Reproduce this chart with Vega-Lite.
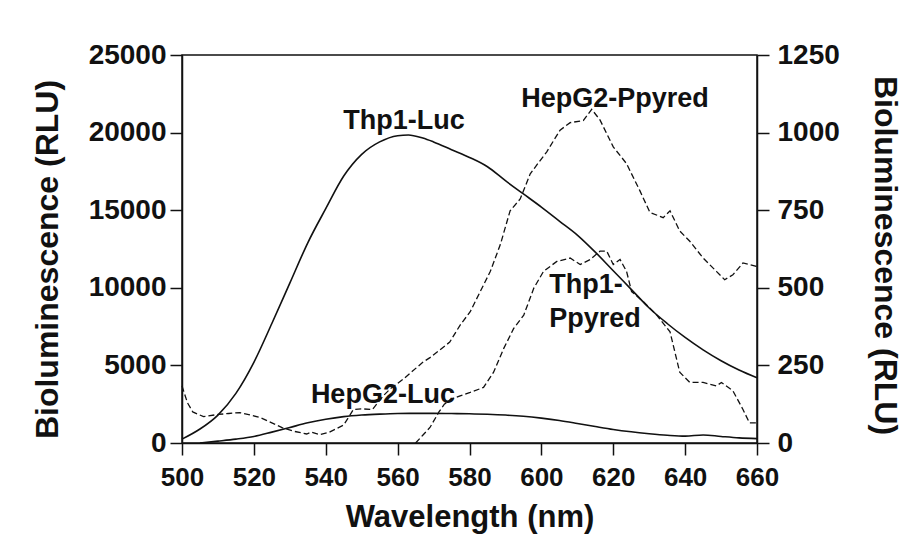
{
  "$schema": "https://vega.github.io/schema/vega-lite/v6.json",
  "width": 575,
  "height": 388,
  "autosize": {"type": "none"},
  "padding": {"left": 182, "top": 55, "right": 164, "bottom": 115},
  "background": "white",
  "config": {
    "view": {"stroke": "#111", "strokeWidth": 1.5},
    "font": "Liberation Sans",
    "axis": {
      "grid": false,
      "domainColor": "#111",
      "domainWidth": 1.5,
      "tickColor": "#111",
      "tickWidth": 1.5,
      "tickSize": 12,
      "labelColor": "#111",
      "labelFont": "Liberation Sans",
      "labelFontWeight": "bold",
      "titleColor": "#111",
      "titleFont": "Liberation Sans",
      "titleFontWeight": "bold"
    }
  },
  "datasets": {
    "luc": [
      {"series": "Thp1-Luc", "nm": 500, "rlu": 250},
      {"series": "Thp1-Luc", "nm": 505, "rlu": 900},
      {"series": "Thp1-Luc", "nm": 510, "rlu": 1800},
      {"series": "Thp1-Luc", "nm": 515, "rlu": 3200},
      {"series": "Thp1-Luc", "nm": 520, "rlu": 5200},
      {"series": "Thp1-Luc", "nm": 525, "rlu": 7700},
      {"series": "Thp1-Luc", "nm": 530, "rlu": 10300},
      {"series": "Thp1-Luc", "nm": 535, "rlu": 12900},
      {"series": "Thp1-Luc", "nm": 540, "rlu": 15100},
      {"series": "Thp1-Luc", "nm": 545, "rlu": 17200},
      {"series": "Thp1-Luc", "nm": 550, "rlu": 18600},
      {"series": "Thp1-Luc", "nm": 555, "rlu": 19400},
      {"series": "Thp1-Luc", "nm": 560, "rlu": 19800},
      {"series": "Thp1-Luc", "nm": 563, "rlu": 19850},
      {"series": "Thp1-Luc", "nm": 567, "rlu": 19650},
      {"series": "Thp1-Luc", "nm": 570, "rlu": 19400},
      {"series": "Thp1-Luc", "nm": 575, "rlu": 18900},
      {"series": "Thp1-Luc", "nm": 580, "rlu": 18400},
      {"series": "Thp1-Luc", "nm": 585, "rlu": 17800},
      {"series": "Thp1-Luc", "nm": 590, "rlu": 16900},
      {"series": "Thp1-Luc", "nm": 595, "rlu": 16050},
      {"series": "Thp1-Luc", "nm": 600, "rlu": 15200},
      {"series": "Thp1-Luc", "nm": 605, "rlu": 14300},
      {"series": "Thp1-Luc", "nm": 610, "rlu": 13400},
      {"series": "Thp1-Luc", "nm": 615, "rlu": 12300},
      {"series": "Thp1-Luc", "nm": 620, "rlu": 11100},
      {"series": "Thp1-Luc", "nm": 625, "rlu": 9900},
      {"series": "Thp1-Luc", "nm": 630, "rlu": 8700},
      {"series": "Thp1-Luc", "nm": 635, "rlu": 7700},
      {"series": "Thp1-Luc", "nm": 640, "rlu": 6800},
      {"series": "Thp1-Luc", "nm": 645, "rlu": 6000},
      {"series": "Thp1-Luc", "nm": 650, "rlu": 5300},
      {"series": "Thp1-Luc", "nm": 655, "rlu": 4700},
      {"series": "Thp1-Luc", "nm": 660, "rlu": 4200},
      {"series": "HepG2-Luc", "nm": 505, "rlu": 0},
      {"series": "HepG2-Luc", "nm": 510, "rlu": 120},
      {"series": "HepG2-Luc", "nm": 515, "rlu": 250},
      {"series": "HepG2-Luc", "nm": 520, "rlu": 420},
      {"series": "HepG2-Luc", "nm": 525, "rlu": 700},
      {"series": "HepG2-Luc", "nm": 530, "rlu": 1000},
      {"series": "HepG2-Luc", "nm": 535, "rlu": 1300},
      {"series": "HepG2-Luc", "nm": 540, "rlu": 1530},
      {"series": "HepG2-Luc", "nm": 545, "rlu": 1700},
      {"series": "HepG2-Luc", "nm": 550, "rlu": 1800},
      {"series": "HepG2-Luc", "nm": 555, "rlu": 1860},
      {"series": "HepG2-Luc", "nm": 560, "rlu": 1900},
      {"series": "HepG2-Luc", "nm": 565, "rlu": 1910},
      {"series": "HepG2-Luc", "nm": 570, "rlu": 1910},
      {"series": "HepG2-Luc", "nm": 575, "rlu": 1900},
      {"series": "HepG2-Luc", "nm": 580, "rlu": 1880},
      {"series": "HepG2-Luc", "nm": 585, "rlu": 1850},
      {"series": "HepG2-Luc", "nm": 590, "rlu": 1800},
      {"series": "HepG2-Luc", "nm": 595, "rlu": 1720},
      {"series": "HepG2-Luc", "nm": 600, "rlu": 1600},
      {"series": "HepG2-Luc", "nm": 605, "rlu": 1450},
      {"series": "HepG2-Luc", "nm": 610, "rlu": 1260},
      {"series": "HepG2-Luc", "nm": 615, "rlu": 1060},
      {"series": "HepG2-Luc", "nm": 620, "rlu": 870},
      {"series": "HepG2-Luc", "nm": 625, "rlu": 720},
      {"series": "HepG2-Luc", "nm": 630, "rlu": 600},
      {"series": "HepG2-Luc", "nm": 635, "rlu": 500},
      {"series": "HepG2-Luc", "nm": 640, "rlu": 440},
      {"series": "HepG2-Luc", "nm": 645, "rlu": 520},
      {"series": "HepG2-Luc", "nm": 650, "rlu": 420},
      {"series": "HepG2-Luc", "nm": 655, "rlu": 330},
      {"series": "HepG2-Luc", "nm": 660, "rlu": 280}
    ],
    "ppy": [
      {"series": "HepG2-Ppyred", "nm": 500, "rlu": 184},
      {"series": "HepG2-Ppyred", "nm": 501.5, "rlu": 130},
      {"series": "HepG2-Ppyred", "nm": 503, "rlu": 100},
      {"series": "HepG2-Ppyred", "nm": 506, "rlu": 85},
      {"series": "HepG2-Ppyred", "nm": 510, "rlu": 92},
      {"series": "HepG2-Ppyred", "nm": 513, "rlu": 95},
      {"series": "HepG2-Ppyred", "nm": 516, "rlu": 98},
      {"series": "HepG2-Ppyred", "nm": 519, "rlu": 90},
      {"series": "HepG2-Ppyred", "nm": 522, "rlu": 81},
      {"series": "HepG2-Ppyred", "nm": 525, "rlu": 65},
      {"series": "HepG2-Ppyred", "nm": 528, "rlu": 49},
      {"series": "HepG2-Ppyred", "nm": 531, "rlu": 38},
      {"series": "HepG2-Ppyred", "nm": 534.7, "rlu": 29},
      {"series": "HepG2-Ppyred", "nm": 536, "rlu": 35},
      {"series": "HepG2-Ppyred", "nm": 538.4, "rlu": 27},
      {"series": "HepG2-Ppyred", "nm": 541, "rlu": 35},
      {"series": "HepG2-Ppyred", "nm": 545, "rlu": 58},
      {"series": "HepG2-Ppyred", "nm": 547.7, "rlu": 108},
      {"series": "HepG2-Ppyred", "nm": 550, "rlu": 110},
      {"series": "HepG2-Ppyred", "nm": 553, "rlu": 108},
      {"series": "HepG2-Ppyred", "nm": 556, "rlu": 152},
      {"series": "HepG2-Ppyred", "nm": 558, "rlu": 175},
      {"series": "HepG2-Ppyred", "nm": 561.6, "rlu": 206},
      {"series": "HepG2-Ppyred", "nm": 564, "rlu": 230},
      {"series": "HepG2-Ppyred", "nm": 567, "rlu": 260},
      {"series": "HepG2-Ppyred", "nm": 569, "rlu": 275},
      {"series": "HepG2-Ppyred", "nm": 571, "rlu": 293},
      {"series": "HepG2-Ppyred", "nm": 574.5, "rlu": 325},
      {"series": "HepG2-Ppyred", "nm": 577.4, "rlu": 380},
      {"series": "HepG2-Ppyred", "nm": 580.2, "rlu": 423},
      {"series": "HepG2-Ppyred", "nm": 583, "rlu": 488},
      {"series": "HepG2-Ppyred", "nm": 585.8, "rlu": 553},
      {"series": "HepG2-Ppyred", "nm": 588.6, "rlu": 640},
      {"series": "HepG2-Ppyred", "nm": 591.3, "rlu": 748},
      {"series": "HepG2-Ppyred", "nm": 594.1, "rlu": 786},
      {"series": "HepG2-Ppyred", "nm": 596.9, "rlu": 867},
      {"series": "HepG2-Ppyred", "nm": 599, "rlu": 900},
      {"series": "HepG2-Ppyred", "nm": 601.5, "rlu": 938},
      {"series": "HepG2-Ppyred", "nm": 605.2, "rlu": 1008},
      {"series": "HepG2-Ppyred", "nm": 608, "rlu": 1032},
      {"series": "HepG2-Ppyred", "nm": 611.7, "rlu": 1039},
      {"series": "HepG2-Ppyred", "nm": 614, "rlu": 1075},
      {"series": "HepG2-Ppyred", "nm": 616.3, "rlu": 1041},
      {"series": "HepG2-Ppyred", "nm": 620, "rlu": 954},
      {"series": "HepG2-Ppyred", "nm": 623.7, "rlu": 900},
      {"series": "HepG2-Ppyred", "nm": 627.4, "rlu": 813},
      {"series": "HepG2-Ppyred", "nm": 630.2, "rlu": 743},
      {"series": "HepG2-Ppyred", "nm": 633.9, "rlu": 726},
      {"series": "HepG2-Ppyred", "nm": 635.8, "rlu": 748},
      {"series": "HepG2-Ppyred", "nm": 638.5, "rlu": 683},
      {"series": "HepG2-Ppyred", "nm": 641.3, "rlu": 650},
      {"series": "HepG2-Ppyred", "nm": 645, "rlu": 596},
      {"series": "HepG2-Ppyred", "nm": 648.7, "rlu": 553},
      {"series": "HepG2-Ppyred", "nm": 651, "rlu": 526},
      {"series": "HepG2-Ppyred", "nm": 653.3, "rlu": 542},
      {"series": "HepG2-Ppyred", "nm": 656.1, "rlu": 580},
      {"series": "HepG2-Ppyred", "nm": 659.8, "rlu": 569},
      {"series": "HepG2-Ppyred", "nm": 660, "rlu": 565},
      {"series": "Thp1-Ppyred", "nm": 565, "rlu": 0},
      {"series": "Thp1-Ppyred", "nm": 567, "rlu": 25},
      {"series": "Thp1-Ppyred", "nm": 569, "rlu": 50},
      {"series": "Thp1-Ppyred", "nm": 571.5, "rlu": 100},
      {"series": "Thp1-Ppyred", "nm": 573, "rlu": 125},
      {"series": "Thp1-Ppyred", "nm": 574.7, "rlu": 140},
      {"series": "Thp1-Ppyred", "nm": 577.4, "rlu": 152},
      {"series": "Thp1-Ppyred", "nm": 580.2, "rlu": 163},
      {"series": "Thp1-Ppyred", "nm": 583.9, "rlu": 179},
      {"series": "Thp1-Ppyred", "nm": 586.7, "rlu": 228},
      {"series": "Thp1-Ppyred", "nm": 589.5, "rlu": 304},
      {"series": "Thp1-Ppyred", "nm": 592.3, "rlu": 369},
      {"series": "Thp1-Ppyred", "nm": 595.1, "rlu": 412},
      {"series": "Thp1-Ppyred", "nm": 597.9, "rlu": 499},
      {"series": "Thp1-Ppyred", "nm": 600.6, "rlu": 553},
      {"series": "Thp1-Ppyred", "nm": 604.3, "rlu": 585},
      {"series": "Thp1-Ppyred", "nm": 608, "rlu": 596},
      {"series": "Thp1-Ppyred", "nm": 610.8, "rlu": 575},
      {"series": "Thp1-Ppyred", "nm": 613.6, "rlu": 591},
      {"series": "Thp1-Ppyred", "nm": 616.3, "rlu": 618},
      {"series": "Thp1-Ppyred", "nm": 618.2, "rlu": 618},
      {"series": "Thp1-Ppyred", "nm": 620, "rlu": 575},
      {"series": "Thp1-Ppyred", "nm": 621.9, "rlu": 591},
      {"series": "Thp1-Ppyred", "nm": 623.7, "rlu": 553},
      {"series": "Thp1-Ppyred", "nm": 625.1, "rlu": 488},
      {"series": "Thp1-Ppyred", "nm": 628.4, "rlu": 455},
      {"series": "Thp1-Ppyred", "nm": 632.1, "rlu": 412},
      {"series": "Thp1-Ppyred", "nm": 635.8, "rlu": 358},
      {"series": "Thp1-Ppyred", "nm": 638.5, "rlu": 228},
      {"series": "Thp1-Ppyred", "nm": 641.3, "rlu": 195},
      {"series": "Thp1-Ppyred", "nm": 645, "rlu": 195},
      {"series": "Thp1-Ppyred", "nm": 648.7, "rlu": 184},
      {"series": "Thp1-Ppyred", "nm": 650.1, "rlu": 195},
      {"series": "Thp1-Ppyred", "nm": 653.3, "rlu": 168},
      {"series": "Thp1-Ppyred", "nm": 656.1, "rlu": 108},
      {"series": "Thp1-Ppyred", "nm": 657.9, "rlu": 65},
      {"series": "Thp1-Ppyred", "nm": 660, "rlu": 65}
    ],
    "labels": [
      {"label": "Thp1-Luc", "nm": 561.8, "rlu": 20750, "anchor": "center"},
      {"label": "HepG2-Ppyred", "nm": 620.5, "rlu": 22170, "anchor": "center"},
      {"label": "HepG2-Luc", "nm": 555.9, "rlu": 3090, "anchor": "center"},
      {"label": "Thp1-", "nm": 602.2, "rlu": 10150, "anchor": "left"},
      {"label": "Ppyred", "nm": 602.2, "rlu": 8000, "anchor": "left"}
    ]
  },
  "layer": [
    {
      "layer": [
        {
          "data": {"name": "luc"},
          "mark": {"type": "line", "interpolate": "monotone", "color": "#111", "strokeWidth": 1.6},
          "encoding": {
            "x": {
              "field": "nm", "type": "quantitative",
              "scale": {"domain": [500, 660], "nice": false, "zero": false},
              "axis": {
                "values": [500, 520, 540, 560, 580, 600, 620, 640, 660],
                "labelFontSize": 26,
                "labelPadding": 9,
                "labelFlush": false,
                "labelOverlap": false,
                "title": "Wavelength (nm)",
                "titleFontSize": 31,
                "titlePadding": 12
              }
            },
            "y": {
              "field": "rlu", "type": "quantitative",
              "scale": {"domain": [0, 25000], "nice": false},
              "axis": {
                "values": [0, 5000, 10000, 15000, 20000, 25000],
                "format": "d",
                "labelFontSize": 28,
                "labelPadding": 4,
                "labelFlush": false,
                "title": "Bioluminescence (RLU)",
                "titleFontSize": 32,
                "titlePadding": 24,
                "titleY": 204
              }
            },
            "detail": {"field": "series", "type": "nominal"}
          }
        },
        {
          "data": {"name": "labels"},
          "transform": [{"filter": "datum.anchor === 'center'"}],
          "mark": {"type": "text", "fontSize": 27, "fontWeight": "bold", "font": "Liberation Sans", "color": "#111", "align": "center", "baseline": "middle"},
          "encoding": {
            "x": {"field": "nm", "type": "quantitative"},
            "y": {"field": "rlu", "type": "quantitative"},
            "text": {"field": "label", "type": "nominal"}
          }
        },
        {
          "data": {"name": "labels"},
          "transform": [{"filter": "datum.anchor === 'left'"}],
          "mark": {"type": "text", "fontSize": 27, "fontWeight": "bold", "font": "Liberation Sans", "color": "#111", "align": "left", "baseline": "middle"},
          "encoding": {
            "x": {"field": "nm", "type": "quantitative"},
            "y": {"field": "rlu", "type": "quantitative"},
            "text": {"field": "label", "type": "nominal"}
          }
        }
      ]
    },
    {
      "data": {"name": "ppy"},
      "mark": {"type": "line", "color": "#111", "strokeWidth": 1.3, "strokeDash": [6, 3]},
      "encoding": {
        "x": {"field": "nm", "type": "quantitative"},
        "y": {
          "field": "rlu", "type": "quantitative",
          "scale": {"domain": [0, 1250], "nice": false},
          "axis": {
            "orient": "right",
            "values": [0, 250, 500, 750, 1000, 1250],
            "format": "d",
            "labelFontSize": 28,
            "labelPadding": 8,
            "labelFlush": false,
            "title": "Bioluminescence (RLU)",
            "titleFontSize": 32,
            "titlePadding": 28,
            "titleY": 200
          }
        },
        "detail": {"field": "series", "type": "nominal"}
      }
    }
  ],
  "resolve": {"scale": {"y": "independent"}}
}
